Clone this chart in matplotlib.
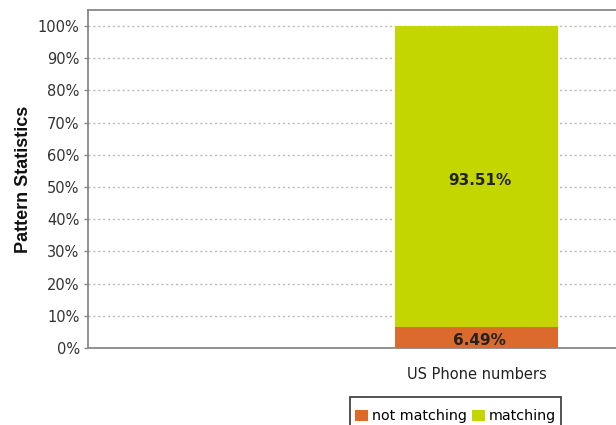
import matplotlib
matplotlib.use("Agg")
import matplotlib.pyplot as plt
from matplotlib.ticker import FuncFormatter
from matplotlib.patches import Rectangle

categories = ["US Phone numbers"]
not_matching = [6.49]
matching = [93.51]
series_names = ["not matching", "matching"]
colors = ["#DC6A2C", "#C4D600"]

W, H = 616, 425
fig = plt.figure(figsize=(W / 100, H / 100), dpi=100)
left, right, top, bottom = 88, 622, 10, 348
ax = fig.add_axes([left / W, 1 - bottom / H, (right - left) / W, (bottom - top) / H])

x = list(range(len(categories)))
bw = 1.0
b1 = ax.bar(x, not_matching, width=bw, color=colors[0], label=series_names[0], zorder=3)
b2 = ax.bar(x, matching, width=bw, bottom=not_matching, color=colors[1], label=series_names[1], zorder=3)

for i in x:
    ax.text(i + 0.02, not_matching[i] / 2 - 1, f"{not_matching[i]:.2f}%", ha="center", va="center",
            fontsize=11, fontweight="bold", color="#222", zorder=4)
    ax.text(i + 0.02, not_matching[i] + matching[i] / 2 - 1.2, f"{matching[i]:.2f}%", ha="center", va="center",
            fontsize=11, fontweight="bold", color="#222", zorder=4)

px_per_unit = 163
center_px = 476.5
ax.set_xlim(-(center_px - left) / px_per_unit, (right - center_px) / px_per_unit)
ax.set_ylim(0, 105)
ax.set_yticks(range(0, 101, 10))
ax.yaxis.set_major_formatter(FuncFormatter(lambda v, p: f"{int(v)}%"))
ax.set_xticks(x)
ax.set_xticklabels(categories)
ax.tick_params(axis="x", length=0, pad=14, labelsize=10.5, labelcolor="#222")
ax.tick_params(axis="y", length=3, width=1, color="#888", labelsize=10.5, labelcolor="#333", pad=3)

ax.grid(axis="y", linestyle=(0, (1.5, 2)), color="#bbbbbb", linewidth=1, zorder=0)
for s in ax.spines.values():
    s.set_color("#888888")
    s.set_linewidth(1.3)

ax.set_ylabel("Pattern Statistics", fontsize=13, fontweight="bold", color="#111", labelpad=4,
              family=["Liberation Sans", "DejaVu Sans"])

leg = fig.legend(handles=[b1, b2], labels=series_names, loc="upper left",
                 bbox_to_anchor=(354 / W, 1 - 408 / H), ncol=2, fontsize=10.3,
                 handlelength=0.9, handleheight=0.9, handletextpad=0.25, columnspacing=0.4,
                 frameon=False, borderpad=0.1, borderaxespad=0)
fig.add_artist(Rectangle((350 / W, 1 - 435 / H), (561 - 350) / W, 38 / H, transform=fig.transFigure,
                         fill=False, edgecolor="#444", linewidth=1.3, clip_on=False))

fig.savefig("out.png", dpi=100)
